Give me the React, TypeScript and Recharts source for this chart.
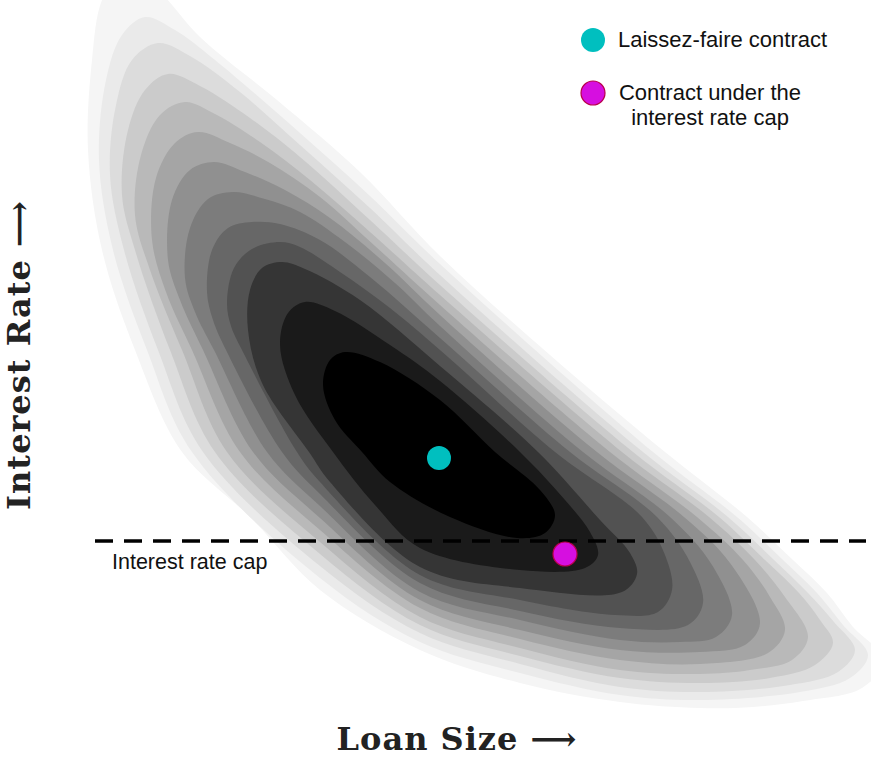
import React from 'react';
import { ScatterChart, Scatter, XAxis, YAxis } from 'recharts';

// Conceptual chart: no ticks, units are arbitrary (loan size →, interest rate ↓ on screen)
const contour01 = [[182,452],[135,350],[102,250],[88,150],[92,60],[102,0],[125,-35],[160,-8],[200,37],[277,100],[360,172],[440,256],[550,355],[665,452],[747,517],[793,560],[827,593],[853,627],[884,660],[862,688],[803,701],[753,707],[700,708],[620,702],[520,683],[420,650],[320,590],[250,517]];
const contour02 = [[192,452],[147,350],[113,250],[99,160],[106,80],[122,35],[145,17],[175,30],[215,60],[300,133],[370,196],[440,264],[653,452],[737,517],[783,560],[817,593],[843,625],[868,655],[850,678],[800,692],[700,700],[620,695],[520,673],[420,642],[320,578]];
const contour03 = [[203,452],[158,350],[124,250],[110,175],[116,105],[132,60],[158,43],[190,56],[240,92],[300,145],[370,208],[440,275],[643,452],[728,517],[774,560],[808,593],[834,622],[855,650],[838,672],[790,685],[700,692],[620,687],[520,664],[420,633],[320,566]];
const contour04 = [[215,452],[170,350],[135,250],[122,195],[128,130],[145,90],[168,74],[200,86],[250,118],[300,157],[370,220],[440,285],[633,452],[719,517],[765,560],[799,593],[820,620],[833,643],[815,665],[770,678],[700,683],[620,678],[520,656],[420,625],[320,554]];
const contour05 = [[227,452],[182,350],[150,270],[135,215],[141,155],[160,115],[185,102],[215,114],[260,142],[310,180],[370,232],[440,295],[622,452],[709,517],[755,560],[785,597],[808,637],[792,660],[750,670],[700,674],[620,670],[520,648],[420,617],[320,542]];
const contour06 = [[240,452],[192,350],[166,292],[152,240],[156,178],[175,143],[198,132],[230,143],[270,163],[320,197],[375,246],[440,305],[610,452],[697,517],[743,560],[770,597],[785,630],[768,653],[700,664],[620,660],[520,639],[420,608],[320,530]];
const contour07 = [[253,452],[203,350],[180,300],[168,260],[172,200],[190,170],[214,162],[245,172],[285,190],[330,218],[385,263],[440,315],[597,452],[684,517],[730,563],[760,623],[745,645],[700,652],[620,650],[520,630],[420,600],[320,518]];
const contour08 = [[267,452],[214,350],[195,312],[185,278],[190,228],[208,199],[233,192],[265,199],[300,212],[345,242],[395,283],[440,326],[583,452],[670,517],[712,565],[732,615],[716,637],[680,642],[620,640],[520,620],[420,592],[320,506]];
const contour09 = [[282,452],[226,350],[213,320],[207,292],[212,250],[228,228],[252,222],[280,224],[320,240],[370,277],[440,338],[570,452],[657,517],[690,562],[703,603],[688,625],[620,628],[520,611],[420,583],[320,494]];
const contour10 = [[297,452],[242,350],[231,326],[227,303],[234,268],[252,249],[280,242],[300,247],[340,272],[390,308],[440,350],[555,452],[642,517],[665,555],[672,590],[658,612],[615,615],[520,600],[420,575],[320,482]];
const contour11 = [[309,452],[262,383],[248,330],[250,290],[262,268],[282,262],[305,269],[360,300],[440,366],[538,452],[600,520],[630,553],[637,574],[622,592],[520,588],[420,567],[330,482]];
const contour12 = [[333,452],[295,395],[280,345],[288,313],[305,302],[335,311],[390,345],[440,381],[520,452],[565,500],[590,532],[598,555],[585,568],[520,570],[420,548],[375,505]];
const contour13 = [[362,452],[335,420],[323,385],[330,360],[345,352],[380,362],[440,400],[495,452],[540,490],[555,515],[545,533],[517,538],[450,517],[390,482]];

const contours = [contour01, contour02, contour03, contour04, contour05, contour06, contour07, contour08, contour09, contour10, contour11, contour12, contour13];
const greys = ['#f5f5f5', '#eaeaea', '#dcdcdc', '#cbcbcb', '#b9b9b9', '#a5a5a5', '#909090', '#7c7c7c', '#676767', '#525252', '#353535', '#1a1a1a', '#000000'];

const laissezFaire = [{ x: 439, y: 458 }];
const underCap = [{ x: 565, y: 554 }];
const capRate = 541;
const capRange = [95, 866];

const W = 871;
const H = 758;

type Pt = { x: number; y: number };

// centripetal Catmull-Rom through the already-scaled points, closed
function closedPath(pts: Pt[]) {
  const n = pts.length;
  const dt = (a: Pt, b: Pt) => Math.sqrt(Math.hypot(b.x - a.x, b.y - a.y)) || 1e-4;
  let d = `M${pts[0].x},${pts[0].y}`;
  for (let i = 0; i < n; i++) {
    const p0 = pts[(i - 1 + n) % n];
    const p1 = pts[i];
    const p2 = pts[(i + 1) % n];
    const p3 = pts[(i + 2) % n];
    const t1 = dt(p0, p1);
    const t2 = t1 + dt(p1, p2);
    const t3 = t2 + dt(p2, p3);
    const m = (k: 'x' | 'y') => {
      const m1 = (t2 - t1) * ((p1[k] - p0[k]) / t1 - (p2[k] - p0[k]) / t2 + (p2[k] - p1[k]) / (t2 - t1));
      const m2 = (t2 - t1) * ((p2[k] - p1[k]) / (t2 - t1) - (p3[k] - p1[k]) / (t3 - t1) + (p3[k] - p2[k]) / (t3 - t2));
      return [p1[k] + m1 / 3, p2[k] - m2 / 3];
    };
    const [c1x, c2x] = m('x');
    const [c1y, c2y] = m('y');
    d += ` C${c1x.toFixed(2)},${c1y.toFixed(2)} ${c2x.toFixed(2)},${c2y.toFixed(2)} ${p2.x},${p2.y}`;
  }
  return d + ' Z';
}

const blob = (fill: string) => (props: any) => (
  <path d={closedPath(props.points)} fill={fill} stroke="none" />
);

const noDot = () => <g />;

export default function App() {
  const sans = '"Liberation Sans", Arial, sans-serif';
  const serif = '"DejaVu Serif", serif';
  const capLine = capRange.map((x) => ({ x, y: capRate }));
  return (
    <div style={{ position: 'absolute', left: 0, top: 0, width: W, height: H, background: '#fff' }}>
      <ScatterChart width={W} height={H} margin={{ top: 0, right: 0, bottom: 0, left: 0 }}>
        <XAxis type="number" dataKey="x" domain={[0, W]} hide allowDataOverflow />
        <YAxis type="number" dataKey="y" domain={[0, H]} reversed hide allowDataOverflow />
        {contours.map((c, i) => (
          <Scatter
            key={i}
            data={c.map(([x, y]) => ({ x, y }))}
            shape={noDot}
            line={blob(greys[i])}
            isAnimationActive={false}
          />
        ))}
        <Scatter
          data={capLine}
          shape={noDot}
          fill="#000"
          line={{ stroke: '#000', strokeWidth: 3.5, strokeDasharray: '18 11' }}
          isAnimationActive={false}
        />
        <Scatter data={laissezFaire} fill="#00bfbf" isAnimationActive={false}
          shape={(p: any) => <circle cx={p.cx} cy={p.cy} r={12} fill="#00bfbf" />} />
        <Scatter data={underCap} fill="#d60fe0" isAnimationActive={false}
          shape={(p: any) => <circle cx={p.cx} cy={p.cy} r={12} fill="#d60fe0" stroke="#b8004a" strokeWidth={1.2} />} />
      </ScatterChart>
      <svg width={W} height={H} style={{ position: 'absolute', left: 0, top: 0, pointerEvents: 'none' }}>
        <circle cx={593} cy={40} r={12} fill="#00bfbf" />
        <text x={618} y={47} fontFamily={sans} fontSize={22} fill="#111">Laissez-faire contract</text>
        <circle cx={593} cy={93} r={12} fill="#d60fe0" stroke="#b8004a" strokeWidth={1.2} />
        <text x={710} y={100} fontFamily={sans} fontSize={22} fill="#111" textAnchor="middle">Contract under the</text>
        <text x={710} y={125} fontFamily={sans} fontSize={22} fill="#111" textAnchor="middle">interest rate cap</text>
        <text x={112} y={569} fontFamily={sans} fontSize={21.5} fill="#111">Interest rate cap</text>
        <text x={457} y={750} fontFamily={serif} fontWeight="bold" fontSize={32} letterSpacing={1} fill="#222" textAnchor="middle">Loan Size ⟶</text>
        <text transform="translate(30,355) rotate(-90)" fontFamily={serif} fontWeight="bold" fontSize={32} letterSpacing={1} fill="#222" textAnchor="middle">Interest Rate ⟶</text>
      </svg>
    </div>
  );
}
